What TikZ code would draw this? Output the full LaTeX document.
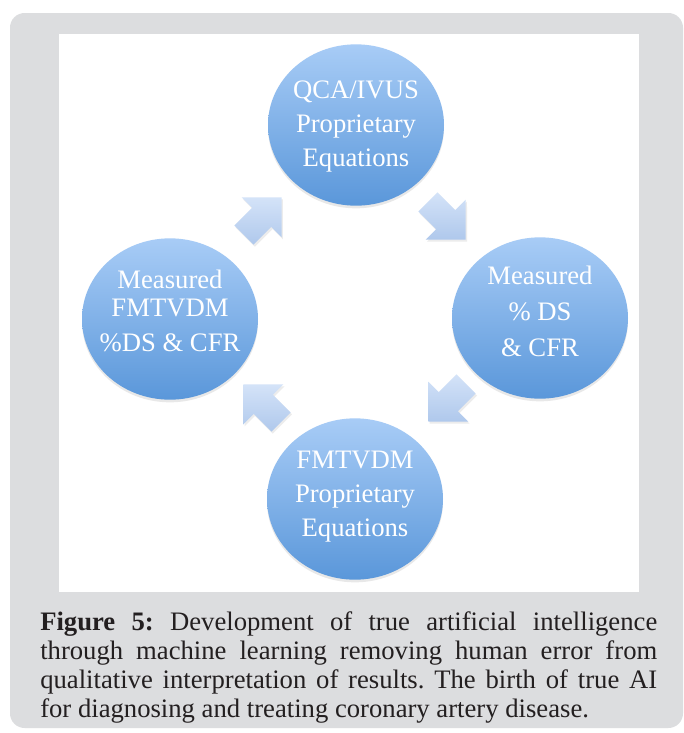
\documentclass[tikz,border=0pt]{standalone}
\usepackage{fontspec}
\setmainfont{Liberation Serif}
\usetikzlibrary{shapes.geometric,shapes.arrows,shadows}
\definecolor{graybg}{HTML}{DCDDDF}
\definecolor{ctop}{HTML}{A8CCF6}
\definecolor{cbot}{HTML}{5A97DA}
\definecolor{atop}{HTML}{D4E3F8}
\definecolor{abot}{HTML}{AFC8EC}
\definecolor{captxt}{HTML}{231F20}
\begin{document}
\begin{tikzpicture}[x=0.75pt,y=-0.75pt,
  bubble/.style={ellipse, minimum width=132pt, minimum height=121pt, inner sep=0pt,
    top color=ctop, bottom color=cbot, draw=none,
    drop shadow={opacity=0.18, shadow xshift=0pt, shadow yshift=-2pt}},
  blabel/.style={text=white, font=\fontsize{20}{25.5}\selectfont, align=center, inner sep=0pt},
  cyc/.style={single arrow, minimum height=40pt, inner xsep=0pt, inner ysep=10pt,
    single arrow head extend=11pt, top color=atop, bottom color=abot, draw=none,
    drop shadow={opacity=0.15, shadow xshift=1pt, shadow yshift=-1.5pt}}]
\useasboundingbox (0,0) rectangle (684,733);
\fill[white] (0,0) rectangle (684,733);
\fill[graybg, rounded corners=11pt] (10,13) rectangle (683,728);
\fill[white] (59,34) rectangle (639,592);

% circles
\node[bubble] (qca) at (356,125) {};
\node[bubble] (mright) at (540,318) {};
\node[bubble] (mleft) at (170,319) {};
\node[bubble] (fmt) at (355,499) {};

% labels
\node[blabel] (qcat) at (356,127) {QCA/IVUS\\Proprietary\\Equations};
\node[blabel, font=\fontsize{20}{27}\selectfont] (mrightt) at (540,311) {Measured\\\% DS\\\& CFR};
\node[blabel, font=\fontsize{20}{20.5}\selectfont] (mleftt) at (170,311) {Measured\\FMTVDM\\[6pt]\%DS \& CFR};
\node[blabel] (fmtt) at (355,497) {FMTVDM\\Proprietary\\Equations};

% cycle arrows
\node[cyc, rotate=45] (a1) at (258,221) {};
\node[cyc, rotate=-45] (a2) at (442,216) {};
\node[cyc, rotate=-135] (a3) at (452,398) {};
\node[cyc, rotate=135] (a4) at (267,408) {};

% caption
\node[anchor=base west, inner sep=0pt, text=captxt, font=\fontsize{20}{21.75}\selectfont] (cap) at (40,630)
 {\parbox[t]{462.75pt}{\frenchspacing\tolerance=10000\hyphenpenalty=10000\textbf{Figure 5:} Development of true artificial intelligence\linebreak
 through machine learning removing human error from\linebreak
 qualitative interpretation of results. The birth of true AI\linebreak
 for diagnosing and treating coronary artery disease.}};
\end{tikzpicture}
\end{document}
